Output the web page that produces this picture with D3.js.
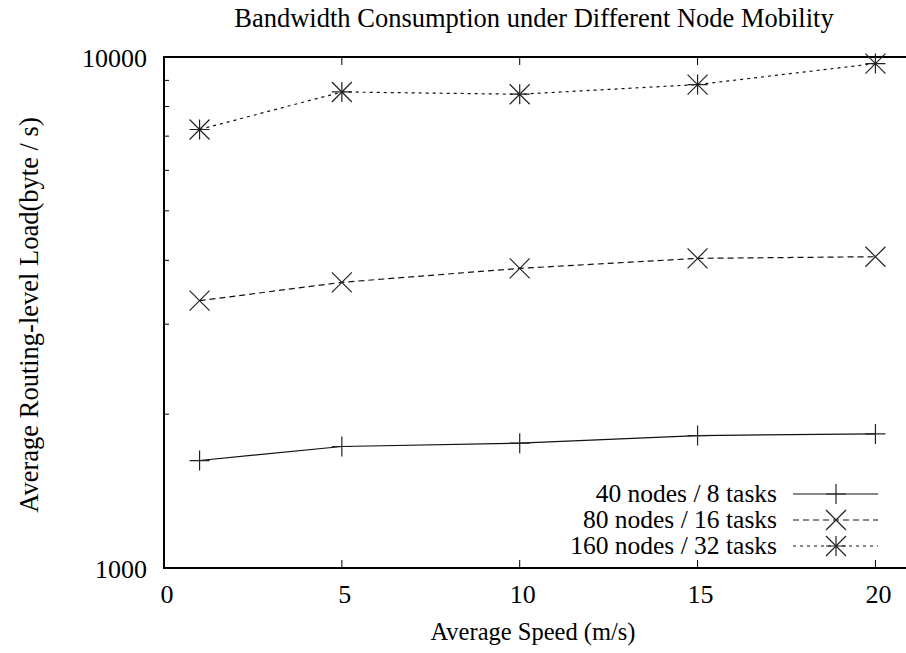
<!DOCTYPE html>
<html>
<head>
<meta charset="utf-8">
<script src="https://cdn.jsdelivr.net/npm/d3@7"></script>
<style>
  body { margin: 0; background: #fff; }
  svg { display: block; }
</style>
</head>
<body>
<svg id="canvas" width="906" height="653"></svg>
<script>
// chart values
const speeds = [1, 5, 10, 15, 20];
const seriesNames = ["40 nodes / 8 tasks", "80 nodes / 16 tasks", "160 nodes / 32 tasks"];
const load40 = [1623, 1729, 1755, 1816, 1830];
const load80 = [3335, 3623, 3858, 4036, 4066];
const load160 = [7213, 8542, 8456, 8832, 9708];
const xTicks = [0, 5, 10, 15, 20];
const yMinorTicks = [2000, 3000, 4000, 5000, 6000, 7000, 8000, 9000];
const yLabelTicks = [1000, 10000];

const svg = d3.select("#canvas");
const font = "Liberation Serif";
const fs = 26;

// plot area; right side runs past the window like in the original
const plotLeft = 164, plotTop = 57, plotBottom = 568, plotRight = 911;

const x = d3.scaleLinear().domain([0, 21]).range([plotLeft, plotRight]);
const y = d3.scaleLog().domain([1000, 10000]).range([plotBottom, plotTop]);

const g = svg.append("g");

function label(parent, txt, px, py, anchor, size) {
  return parent.append("text").attr("x", px).attr("y", py)
    .attr("text-anchor", anchor).attr("font-family", font)
    .attr("font-size", size || fs).attr("fill", "#000").text(txt);
}

// frame
g.append("rect")
  .attr("x", plotLeft).attr("y", plotTop)
  .attr("width", plotRight - plotLeft).attr("height", plotBottom - plotTop)
  .attr("fill", "none").attr("stroke", "#000").attr("stroke-width", 2);

// x ticks, bottom and top, pointing inward
xTicks.forEach(function(t) {
  g.append("line").attr("x1", x(t)).attr("x2", x(t)).attr("y1", plotBottom).attr("y2", plotBottom - 8)
    .attr("stroke", "#000");
  g.append("line").attr("x1", x(t)).attr("x2", x(t)).attr("y1", plotTop).attr("y2", plotTop + 8)
    .attr("stroke", "#000");
  label(g, t, x(t) + 3, 603, "middle");
});

// y minor ticks (log), inward
yMinorTicks.forEach(function(t) {
  g.append("line").attr("x1", plotLeft).attr("x2", plotLeft + 5).attr("y1", y(t)).attr("y2", y(t))
    .attr("stroke", "#000");
});
yLabelTicks.forEach(function(t) {
  label(g, t, 147, y(t) + 10, "end");
});

// titles
label(svg, "Bandwidth Consumption under Different Node Mobility", 534, 27, "middle", 26.5);
label(svg, "Average Speed (m/s)", 533, 640, "middle", 24.5);
label(svg, "Average Routing-level Load(byte / s)", 0, 0, "middle", 26.5)
  .attr("transform", "translate(38,315) rotate(-90)");

// markers
const s = 10;
function plus(sel) {
  sel.append("path").attr("d", `M${-s},0H${s}M0,${-s}V${s}`);
}
function cross(sel) {
  sel.append("path").attr("d", `M${-s},${-s}L${s},${s}M${-s},${s}L${s},${-s}`);
}
function star(sel) { plus(sel); cross(sel); }

const series = [
  { name: seriesNames[0], values: load40, dash: null, marker: plus },
  { name: seriesNames[1], values: load80, dash: "6,4", marker: cross },
  { name: seriesNames[2], values: load160, dash: "3,4", marker: star }
];

const line = d3.line().x(function(d, i) { return x(speeds[i]); }).y(function(d) { return y(d); });

series.forEach(function(sr, k) {
  g.append("path").datum(sr.values)
    .attr("d", line).attr("fill", "none").attr("stroke", "#111").attr("stroke-width", 1.2)
    .attr("stroke-dasharray", sr.dash);
  sr.values.forEach(function(v, i) {
    const m = g.append("g").attr("transform", `translate(${x(speeds[i])},${y(v)})`)
      .attr("stroke", "#222").attr("stroke-width", 1.2).attr("fill", "none");
    sr.marker(m);
  });

  // legend entry
  const ly = 494 + k * 26;
  label(g, sr.name, 777, ly + 8, "end", 25.5);
  g.append("line").attr("x1", 793).attr("x2", 878).attr("y1", ly).attr("y2", ly)
    .attr("stroke", "#111").attr("stroke-width", 1.2).attr("stroke-dasharray", sr.dash);
  const lm = g.append("g").attr("transform", `translate(836,${ly})`)
    .attr("stroke", "#222").attr("stroke-width", 1.2).attr("fill", "none");
  sr.marker(lm);
});
</script>
</body>
</html>
